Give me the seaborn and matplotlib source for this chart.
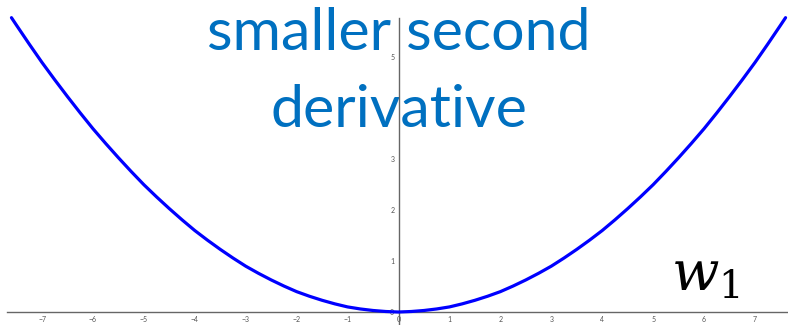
import matplotlib
matplotlib.use("Agg")
import matplotlib.pyplot as plt
import seaborn as sns
import pandas as pd

# Sampled loss curve along w1 (read at quarter-unit steps)
w1_values = [-7.6, -7.5, -7.25, -7.0, -6.75, -6.5, -6.25, -6.0, -5.75, -5.5, -5.25,
             -5.0, -4.75, -4.5, -4.25, -4.0, -3.75, -3.5, -3.25, -3.0, -2.75, -2.5,
             -2.25, -2.0, -1.75, -1.5, -1.25, -1.0, -0.75, -0.5, -0.25, 0.0,
             0.25, 0.5, 0.75, 1.0, 1.25, 1.5, 1.75, 2.0, 2.25, 2.5, 2.75, 3.0,
             3.25, 3.5, 3.75, 4.0, 4.25, 4.5, 4.75, 5.0, 5.25, 5.5, 5.75, 6.0,
             6.25, 6.5, 6.75, 7.0, 7.25, 7.5, 7.6]
loss_values = [5.78, 5.63, 5.26, 4.90, 4.56, 4.23, 3.91, 3.60, 3.31, 3.03, 2.76,
               2.50, 2.26, 2.03, 1.81, 1.60, 1.41, 1.23, 1.06, 0.90, 0.76, 0.63,
               0.51, 0.40, 0.31, 0.23, 0.16, 0.10, 0.06, 0.03, 0.01, 0.00,
               0.01, 0.03, 0.06, 0.10, 0.16, 0.23, 0.31, 0.40, 0.51, 0.63, 0.76, 0.90,
               1.06, 1.23, 1.41, 1.60, 1.81, 2.03, 2.26, 2.50, 2.76, 3.03, 3.31, 3.60,
               3.91, 4.23, 4.56, 4.90, 5.26, 5.63, 5.78]
x_ticks = [-7, -6, -5, -4, -3, -2, -1, 0, 1, 2, 3, 4, 5, 6, 7]
y_ticks = [0, 1, 2, 3, 4, 5]
title_lines = ["smaller second", "derivative"]
axis_label = r"$w_1$"

sns.set_style("white")
plt.rcParams["font.family"] = ["Lato", "DejaVu Sans"]
plt.rcParams["mathtext.fontset"] = "dejavuserif"

df = pd.DataFrame({"w1": w1_values, "loss": loss_values})

fig = plt.figure(figsize=(7.88, 3.25), dpi=100)
ax = fig.add_axes([0, 0, 1, 1])
sns.lineplot(data=df, x="w1", y="loss", ax=ax, color="#0000FF", linewidth=2.3,
             sort=False, zorder=3)

ax.set_xlim(-7.825, 7.648)
ax.set_ylim(-0.255, 6.127)

# GeoGebra-style axes crossing at the origin
for side in ("top", "right"):
    ax.spines[side].set_visible(False)
ax.spines["left"].set_position(("data", 0))
ax.spines["bottom"].set_position(("data", 0))
ax.spines["left"].set_bounds(-0.3, 5.77)
ax.spines["bottom"].set_bounds(-7.68, 7.7)
for side in ("left", "bottom"):
    ax.spines[side].set_color("#666666")
    ax.spines[side].set_linewidth(1.0)

ax.set_xticks(x_ticks)
ax.set_yticks(y_ticks)
ax.set_xticklabels([str(t).replace("-", "\u2212") for t in x_ticks])
ax.set_yticklabels([str(t) for t in y_ticks])
ax.tick_params(axis="both", direction="inout", length=4, width=0.6, color="#666666",
               labelsize=5, labelcolor="#555555", pad=1)
ax.set_xlabel("")
ax.set_ylabel("")

# Caption sits beneath the axis lines and tick labels
ax.text(0.0, 5.14, title_lines[0], ha="center", va="baseline", fontsize=42.5,
        color="#0070C0", zorder=1)
ax.text(0.0, 3.64, title_lines[1], ha="center", va="baseline", fontsize=42.5,
        color="#0070C0", zorder=1)
ax.text(6.03, 0.42, axis_label, ha="center", va="baseline", fontsize=40,
        color="black", zorder=4)

fig.savefig("out.png", dpi=100)
